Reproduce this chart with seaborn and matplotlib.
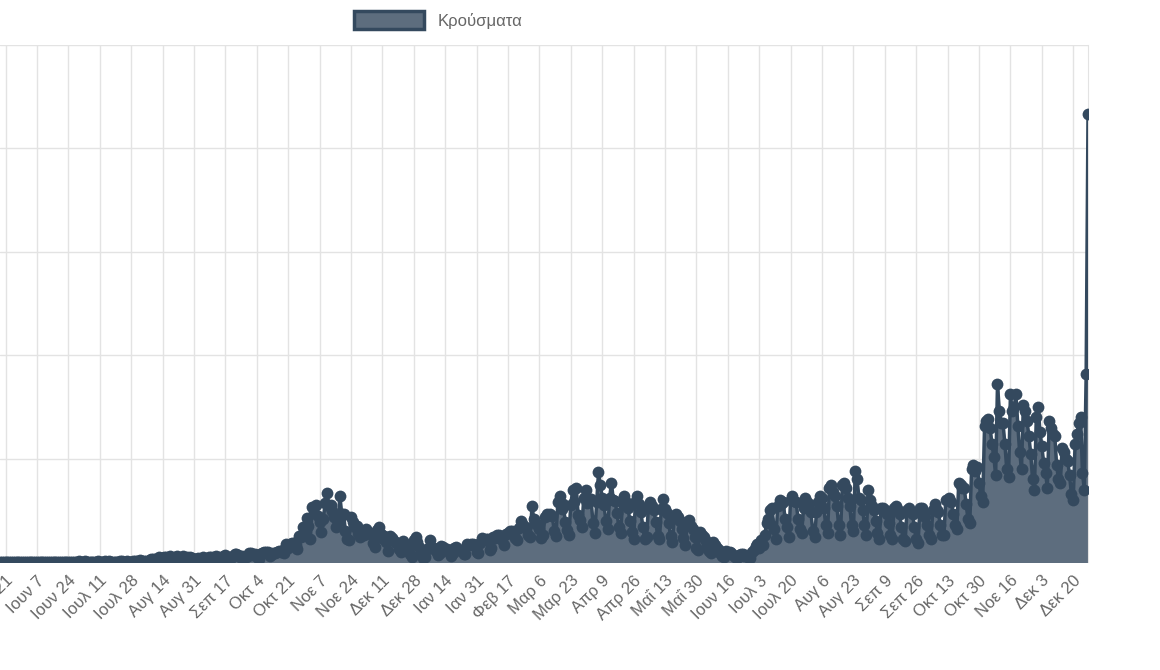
import numpy as np
import pandas as pd
import matplotlib
matplotlib.use('Agg')
import matplotlib.pyplot as plt
from matplotlib.patches import Patch
import seaborn as sns

# daily cases, by month (approximate)
may20 = [4, 9, 6, 3, 10, 12, 5, 4, 2, 20, 15, 10, 8, 19]
jun20 = [10, 11, 15, 5, 13, 5, 3, 6, 6, 12, 4, 18, 10, 2, 2, 4, 7, 5, 5, 22, 7, 16, 3, 12, 8, 10, 4, 8, 12, 30]
jul20 = [5, 11, 25, 5, 10, 22, 8, 12, 18, 25, 14, 4, 13, 28, 19, 29, 18, 19, 12, 9, 20, 26, 29, 18, 24, 31, 9, 22, 50, 28, 36]
aug20 = [42, 110, 42, 28, 34, 42, 77, 124, 151, 123, 162, 262, 203, 217, 230, 234, 170, 269, 216, 168, 224, 284, 160, 210, 293, 196, 250, 165, 220, 210, 152]
sep20 = [158, 202, 144, 169, 239, 145, 156, 219, 221, 201, 258, 295, 150, 228, 247, 308, 346, 232, 235, 190, 286, 382, 403, 359, 218, 289, 242, 227, 307, 438]
oct20 = [456, 344, 380, 258, 162, 386, 439, 482, 505, 489, 294, 364, 445, 428, 468, 508, 460, 558, 443, 865, 667, 882, 935, 935, 838, 608, 1259, 1211, 1690, 1433, 2150]
nov20 = [1738, 1119, 2646, 2393, 2752, 2227, 1914, 1467, 2081, 2834, 3316, 2700, 2735, 2488, 2198, 1694, 1913, 3209, 2311, 2311, 1498, 1135, 1044, 2152, 1912, 1699, 1747, 1395, 1193, 1312]
dec20 = [1316, 1581, 1433, 1386, 1365, 898, 726, 1533, 1680, 1374, 1150, 1238, 982, 531, 1239, 1147, 1051, 960, 931, 646, 506, 1018, 870, 788, 610, 384, 262, 1047, 1191, 957, 723]
jan21 = [440, 205, 262, 609, 659, 1050, 672, 653, 554, 328, 436, 783, 703, 605, 624, 485, 313, 437, 688, 732, 583, 580, 561, 379, 407, 860, 819, 873, 878, 818, 496]
feb21 = [438, 898, 1169, 1048, 1127, 1133, 598, 690, 1233, 1146, 1311, 1299, 1201, 1056, 829, 1351, 1407, 1508, 1481, 1306, 1169, 1068, 1659, 1996, 1800, 1708, 1627, 1316]
mar21 = [1188, 2702, 2063, 1859, 1782, 1576, 1184, 1297, 2188, 2299, 2259, 2302, 2210, 1522, 1254, 2911, 3215, 2577, 2788, 1916, 1570, 1325, 2762, 3465, 2905, 3586, 2249, 2024, 1679, 3075, 3500]
apr21 = [2846, 2932, 3029, 1883, 1395, 2900, 4340, 3738, 3089, 2779, 1961, 1587, 3089, 3833, 3015, 2939, 2389, 1679, 1389, 2825, 3197, 2886, 2594, 1984, 1435, 1092, 2900, 3176, 2801, 2400]
may21 = [1697, 1129, 1202, 2613, 2881, 2696, 2534, 1955, 1271, 1108, 2543, 3052, 2578, 2386, 1897, 1248, 961, 2140, 2317, 2195, 1959, 1596, 1154, 831, 1937, 2047, 1727, 1605, 1195, 700, 593]
jun21 = [1440, 1320, 1213, 1006, 827, 542, 453, 962, 826, 656, 584, 454, 278, 239, 545, 459, 500, 428, 360, 233, 183, 353, 398, 382, 309, 300, 250, 180, 460, 600]
jul21 = [760, 870, 694, 1080, 800, 1300, 1900, 2100, 2500, 2600, 1600, 1100, 2700, 3000, 2800, 2900, 2100, 1700, 1200, 3000, 3200, 2950, 2900, 2100, 1600, 1400, 2600, 3100, 2900, 2800, 2400]
aug21 = [1500, 1200, 2400, 2900, 3200, 3100, 2600, 1800, 1400, 3600, 3700, 3400, 3200, 2700, 1800, 1300, 3700, 3800, 3600, 3100, 2700, 1800, 1500, 4400, 4000, 3100, 3000, 2500, 1800, 1300, 3500]
sep21 = [3000, 2700, 2500, 2000, 1400, 1100, 2600, 2600, 2500, 2300, 1900, 1300, 1100, 2600, 2700, 2500, 2300, 1700, 1100, 1000, 2500, 2600, 2400, 2300, 1700, 1100, 900, 2600, 2600, 2300]
oct21 = [2200, 1800, 1300, 1100, 2500, 2800, 2500, 2400, 1800, 1300, 1300, 3000, 3000, 3100, 2900, 2300, 1800, 1600, 3800, 3700, 3600, 3600, 2800, 2100, 1900, 4500, 4700, 4400, 4600, 3800, 3200]
nov21 = [2900, 6600, 6800, 6900, 6500, 5700, 5100, 4200, 8600, 7300, 6700, 6700, 5700, 4500, 4100, 8100, 7300, 7500, 8100, 6600, 5300, 4500, 7600, 7300, 6800, 6100, 5200, 4000, 3500, 7000]
dec21 = [7500, 6300, 5600, 4800, 4300, 3600, 6800, 6500, 6200, 6100, 4700, 4000, 3800, 5500, 5300, 5000, 4900, 4200, 3300, 3000, 5700, 6200, 6700, 7000, 4300, 3500, 9100, 21657]

months_gr = ['Ιαν', 'Φεβ', 'Μαρ', 'Απρ', 'Μαΐ', 'Ιουν', 'Ιουλ', 'Αυγ', 'Σεπ', 'Οκτ', 'Νοε', 'Δεκ']

cases = sum([may20, jun20, jul20, aug20, sep20, oct20, nov20, dec20, jan21, feb21, mar21,
             apr21, may21, jun21, jul21, aug21, sep21, oct21, nov21, dec21], [])
df = pd.DataFrame({'date': pd.date_range('2020-05-18', periods=len(cases), freq='D'),
                   'cases': cases})

sns.set_style('white')
plt.rcParams['font.family'] = ['Liberation Sans', 'DejaVu Sans']

line_c = '#34495e'
fill_c = '#5d6d7e'

fig = plt.figure(figsize=(11.6, 6.7), dpi=100)
ax = fig.add_axes([0.0, 1 - 562 / 670, 1088 / 1160, (562 - 45) / 670])

ax.fill_between(df['date'], df['cases'], color=fill_c, zorder=2)
sns.lineplot(data=df, x='date', y='cases', ax=ax, color=line_c, lw=2.5,
             marker='o', markersize=8.5, markeredgewidth=0, zorder=3)

ax.set_xlim(df['date'].iloc[0], df['date'].iloc[-1])
ax.set_ylim(0, 25000)
ax.set_yticks(np.arange(0, 25001, 5000))
ax.set_yticklabels([])
ticks = pd.date_range('2020-05-21', df['date'].iloc[-1], freq='17D')
ax.set_xticks(ticks)
ax.set_xticklabels([f'{months_gr[t.month - 1]} {t.day}' for t in ticks],
                   rotation=45, ha='right', rotation_mode='anchor',
                   color='#666666', fontsize=12)
ax.grid(True, color='#e3e3e3', lw=1, zorder=0)
ax.tick_params(axis='both', length=0, pad=8)
for s in ['left', 'top', 'bottom']:
    ax.spines[s].set_visible(False)
ax.spines['right'].set_color('#e3e3e3')
ax.set_xlabel('')
ax.set_ylabel('')

fig.legend(handles=[Patch(facecolor=fill_c, edgecolor=line_c, lw=2.5, label='Κρούσματα')],
           loc='center', bbox_to_anchor=(0.378, 0.97), frameon=False,
           fontsize=12, handlelength=4.2, handleheight=1.3, labelcolor='#666666')

fig.savefig('out.png', dpi=100)
